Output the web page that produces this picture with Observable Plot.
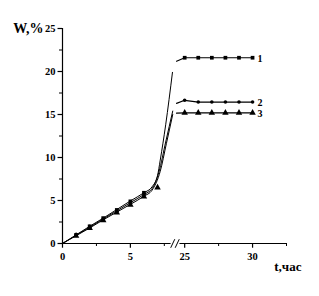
<!DOCTYPE html>
<html><head><meta charset="utf-8">
<script src="https://cdn.jsdelivr.net/npm/d3@7"></script>
<script src="https://cdn.jsdelivr.net/npm/@observablehq/plot@0.6"></script>
<style>body{margin:0;background:#fff}</style>
</head><body><div id="chart"></div>
<script>
// ---- data ----
// smooth curves (left part, before break)
const curve1T = [0, 1, 2, 3, 4, 5, 6, 6.6, 7.0, 7.2, 7.6, 8.1];
const curve1W = [0, 1.0, 2.0, 2.95, 3.95, 4.95, 5.9, 6.6, 7.9, 9.7, 13.8, 19.9];
const curve2T = [0, 1, 2, 3, 4, 5, 6, 6.6, 7.1, 7.6, 8.12];
const curve2W = [0, 0.95, 1.9, 2.85, 3.8, 4.75, 5.7, 6.4, 8.3, 11.8, 15.4];
const curve3T = [0, 1, 2, 3, 4, 5, 6, 6.6, 7.2, 7.65, 8.12];
const curve3W = [0, 0.9, 1.8, 2.75, 3.65, 4.55, 5.5, 6.2, 8.4, 11.6, 15.0];
// measured points (left part)
const pts1T = [1, 2, 3, 4, 5, 6];
const pts1W = [1.0, 2.0, 2.95, 3.9, 4.9, 5.9];
const pts2T = [1, 2, 3, 4, 5, 6];
const pts2W = [0.95, 1.9, 2.85, 3.75, 4.7, 5.7];
const pts3T = [1, 2, 3, 4, 5, 6, 7];
const pts3W = [0.9, 1.8, 2.7, 3.6, 4.5, 5.45, 6.5];
// right part (after break)
const right1T = [24.4, 25, 26, 27, 28, 29, 30];
const right1W = [21.2, 21.6, 21.6, 21.6, 21.6, 21.6, 21.6];
const right2T = [24.4, 25, 26, 27, 28, 29, 30];
const right2W = [16.3, 16.65, 16.45, 16.45, 16.45, 16.45, 16.45];
const right3T = [24.4, 25, 26, 27, 28, 29, 30];
const right3W = [15.15, 15.2, 15.2, 15.2, 15.2, 15.2, 15.2];
const seriesLabels = ["1", "2", "3"];
// axes
const yMajor = [0, 5, 10, 15, 20, 25];
const yMinor = [2.5, 7.5, 12.5, 17.5, 22.5];
const xMajor = [0, 5, 25, 30];
const xMinor = [2.5, 7.5, 27.5, 32.5];
const xLabel = "t,час";
const yLabel = "W,%";

// ---- axis break ----
const breakLeftT = 8.0;     // left axis segment ends here
const breakRightT = 24.65;  // right axis segment starts here
const shift = 16;           // time removed by the break
const disp = t => (t > 15 ? t - shift : t);

const zip = (T, W, s) => T.map((t, i) => ({x: disp(t), y: W[i], s}));
const curves = [...zip(curve1T, curve1W, 1), ...zip(curve2T, curve2W, 2), ...zip(curve3T, curve3W, 3)];
const right = [...zip(right1T, right1W, 1), ...zip(right2T, right2W, 2), ...zip(right3T, right3W, 3)];
const dots1 = [...zip(pts1T, pts1W, 1), ...zip(right1T.slice(1), right1W.slice(1), 1)];
const dots2 = [...zip(pts2T, pts2W, 2), ...zip(right2T.slice(1), right2W.slice(1), 2)];
const dots3 = [...zip(pts3T, pts3W, 3), ...zip(right3T.slice(1), right3W.slice(1), 3)];
const lastPts = [right1W, right2W, right3W].map((W, i) => ({x: disp(30), y: W[W.length - 1], label: seriesLabels[i]}));

const xEnd = disp(32.5);
const bL = disp(breakLeftT), bR = disp(breakRightT);
const slashes = [bL + 0.12, bL + 0.45].map(c => ({x1: c - 0.15, x2: c + 0.15, y1: -0.5, y2: 0.5}));

const font = "'Liberation Serif', 'Times New Roman', serif";

const chart = Plot.plot({
  width: 319, height: 296,
  marginLeft: 62, marginRight: 33, marginTop: 28, marginBottom: 53,
  x: {domain: [0, xEnd], axis: null},
  y: {domain: [0, 25], axis: null},
  style: {fontFamily: font, background: "#fff", color: "#000"},
  marks: [
    // y axis
    Plot.ruleX([0], {y1: 0, y2: 25, stroke: "#000", strokeWidth: 1.2}),
    Plot.ruleY(yMajor, {y: d => d, x1: 0, x2: -0.33, stroke: "#000", strokeWidth: 1.2}),
    Plot.ruleY(yMinor, {y: d => d, x1: 0, x2: -0.22, stroke: "#000", strokeWidth: 1}),
    Plot.text(yMajor, {x: 0, y: d => d, text: d => String(d), dx: -7, textAnchor: "end", fontSize: 10.5, fontWeight: "bold"}),
    // x axis with break
    Plot.ruleY([{a: 0, b: bL}, {a: bR, b: xEnd}], {y: 0, x1: "a", x2: "b", stroke: "#000", strokeWidth: 1.2}),
    Plot.link(slashes, {x1: "x1", x2: "x2", y1: "y1", y2: "y2", stroke: "#000", strokeWidth: 1}),
    Plot.ruleX(xMajor, {x: d => disp(d), y1: 0, y2: -0.55, stroke: "#000", strokeWidth: 1.2}),
    Plot.ruleX(xMinor, {x: d => disp(d), y1: 0, y2: -0.35, stroke: "#000", strokeWidth: 1}),
    Plot.text(xMajor, {x: d => disp(d), y: 0, text: d => String(d), dy: 13, fontSize: 10.5, fontWeight: "bold"}),
    // axis titles
    Plot.text([yLabel], {x: 0, y: 25, text: d => d, dx: -19, textAnchor: "end", fontSize: 14, fontWeight: "bold"}),
    Plot.text([xLabel], {x: disp(32.5) - 0.9, y: 0, text: d => d, dy: 23, textAnchor: "start", fontSize: 13, fontWeight: "bold"}),
    // curves
    Plot.line(curves, {x: "x", y: "y", z: "s", curve: "monotone-x", stroke: "#000", strokeWidth: 1}),
    Plot.line(right, {x: "x", y: "y", z: "s", stroke: "#000", strokeWidth: 1.2}),
    // markers
    Plot.dot(dots1, {x: "x", y: "y", symbol: "square", r: 2.1, fill: "#000"}),
    Plot.dot(dots2, {x: "x", y: "y", symbol: "circle", r: 1.8, fill: "#000"}),
    Plot.dot(dots3, {x: "x", y: "y", symbol: "triangle", r: 2.4, fill: "#000"}),
    // series labels
    Plot.text(lastPts, {x: "x", y: "y", text: "label", dx: 5, dy: 1, textAnchor: "start", fontSize: 10, fontWeight: "bold"})
  ]
});
document.getElementById("chart").appendChild(chart);
</script>
</body></html>
